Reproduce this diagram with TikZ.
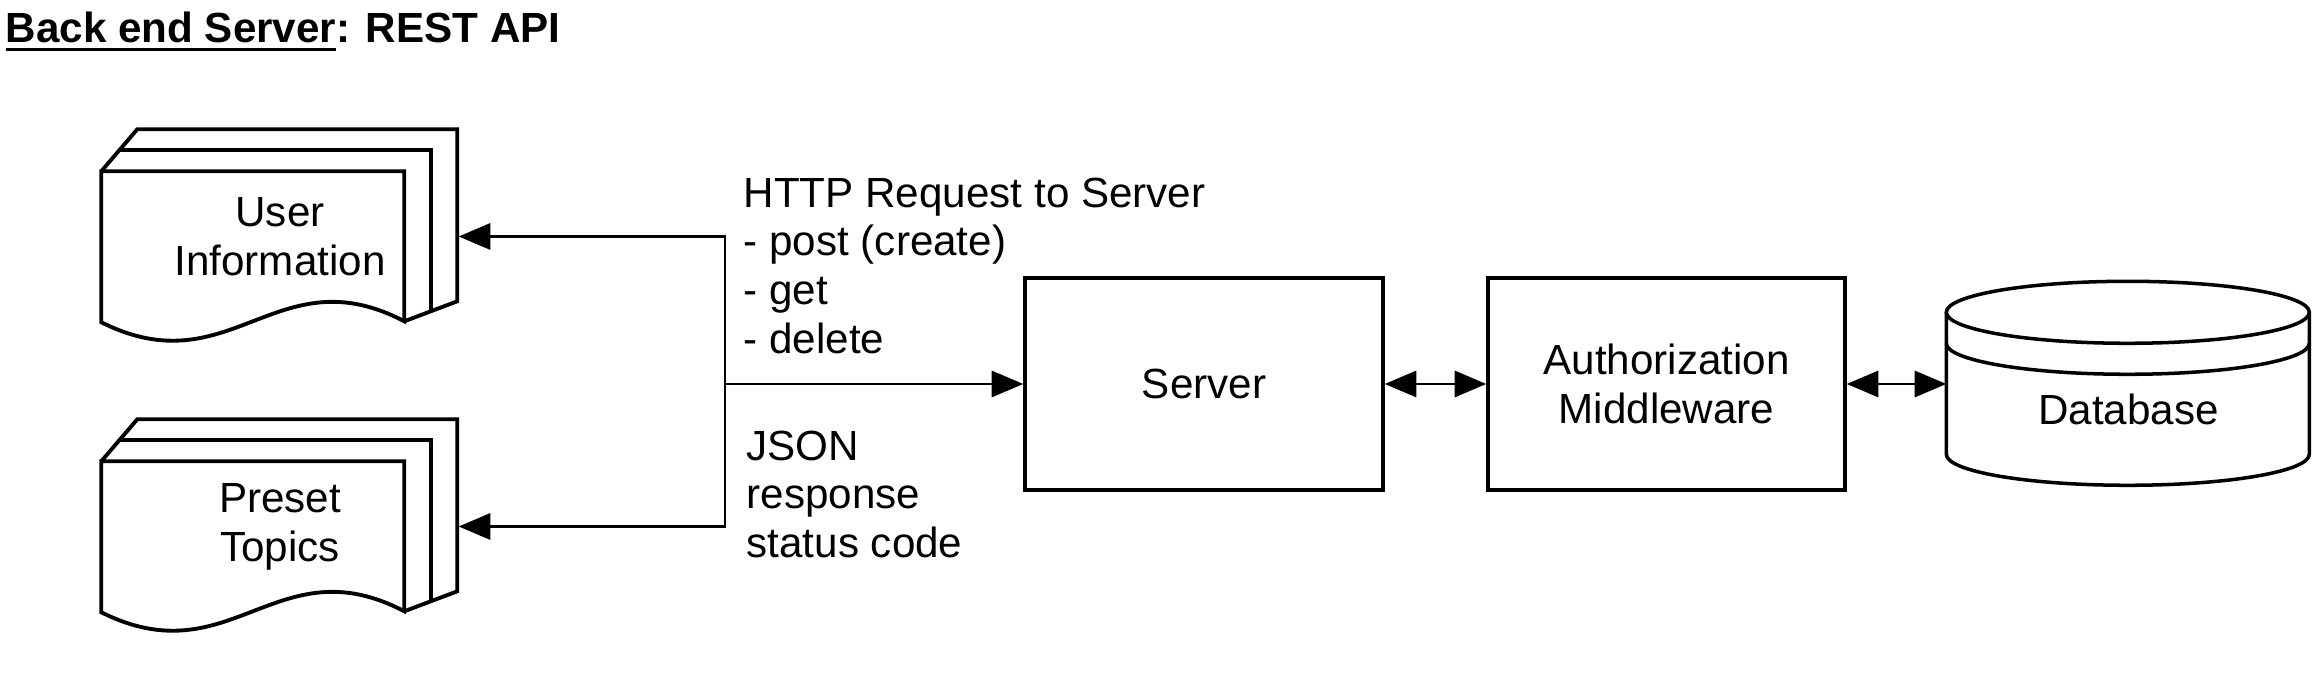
\documentclass[tikz,border=0pt]{standalone}
\usepackage{fontspec}
\setmainfont{Liberation Sans}
\usetikzlibrary{arrows.meta, positioning}

% thick underline for the title
\newcommand{\ulinetxt}[1]{\setbox0=\hbox{#1}\rlap{\vrule width\wd0 height -1.5pt depth 2.4pt}\box0}

% stacked pages round a document node
\newcommand{\pagestack}[1]{%
  \begin{scope}[shift={(#1.north west)}, line width=1.1pt]
    \draw (0,-0.42) -- (0.36,0) -- (3.56,0) -- (3.56,-1.72) -- (3.03,-1.92);
    \draw (0.18,-0.21) -- (3.30,-0.21) -- (3.30,-1.82);
    \draw (0,-0.42) -- (3.03,-0.42) -- (3.03,-1.92)
      .. controls (1.75,-1.25) and (1.30,-2.58) .. (0,-1.93) -- cycle;
  \end{scope}}

% database cylinder round a node
\newcommand{\dbshape}[1]{%
  \begin{scope}[shift={(#1.north west)}, line width=1pt]
    \draw (1.815,-0.31) ellipse [x radius=1.815cm, y radius=0.31cm];
    \draw (0,-0.31) -- (0,-1.73) arc[start angle=180, end angle=360, x radius=1.815cm, y radius=0.31cm] -- (3.63,-0.31);
    \draw (0,-0.62) arc[start angle=180, end angle=360, x radius=1.815cm, y radius=0.31cm];
  \end{scope}}

\begin{document}
\begin{tikzpicture}[
    >={Triangle[length=9pt, width=7.5pt]},
    box/.style={rectangle, draw, line width=1pt, inner sep=0pt, align=center},
    docs/.style={rectangle, minimum width=3.56cm, minimum height=2.13cm, inner sep=0pt, align=center},
    store/.style={rectangle, minimum width=3.63cm, minimum height=2.04cm, inner sep=0pt, text height=22.8pt, text depth=0pt},
    txt/.style={anchor=north west, inner sep=0pt, align=left},
    conn/.style={draw, line width=0.6pt},
    font=\fontsize{12}{13.9}\selectfont
]
\useasboundingbox (0,0) rectangle (23.18,6.79);

% Title
\node[anchor=base west, inner sep=0pt, font=\fontsize{12}{14}\selectfont\bfseries] (title) at (0.05,6.36)
  {\ulinetxt{Back end Server}: REST API};

% Document stores on the left
\node[docs] (user) at (2.80,4.425) {User\\Information};
\node[docs] (preset) at (2.80,1.525) {Preset\\Topics};
\pagestack{user}
\pagestack{preset}

% Server chain
\node[box, minimum width=3.58cm, minimum height=2.12cm] (server) at (12.04,2.95) {Server};
\node[box, minimum width=3.57cm, minimum height=2.12cm] (auth) at (16.665,2.95) {Authorization\\Middleware};
\node[store] (db) at (21.285,2.95) {Database};
\dbshape{db}

% Request and response labels
\node[txt] (req) at (7.43,5.02) {HTTP Request to Server\\- post (create)\\- get\\- delete};
\node[txt] (resp) at (7.46,2.49) {JSON\\response\\status code};

% Connectors
\coordinate (split) at (7.25,2.95);
\draw[conn, ->] (split) -- (server.west);
\draw[conn, ->] (split) |- (user.east);
\draw[conn, ->] (split) |- (preset.east);
\draw[conn, <->] (server.east) -- (auth.west);
\draw[conn, <->] (auth.east) -- (db.west);

\end{tikzpicture}
\end{document}
